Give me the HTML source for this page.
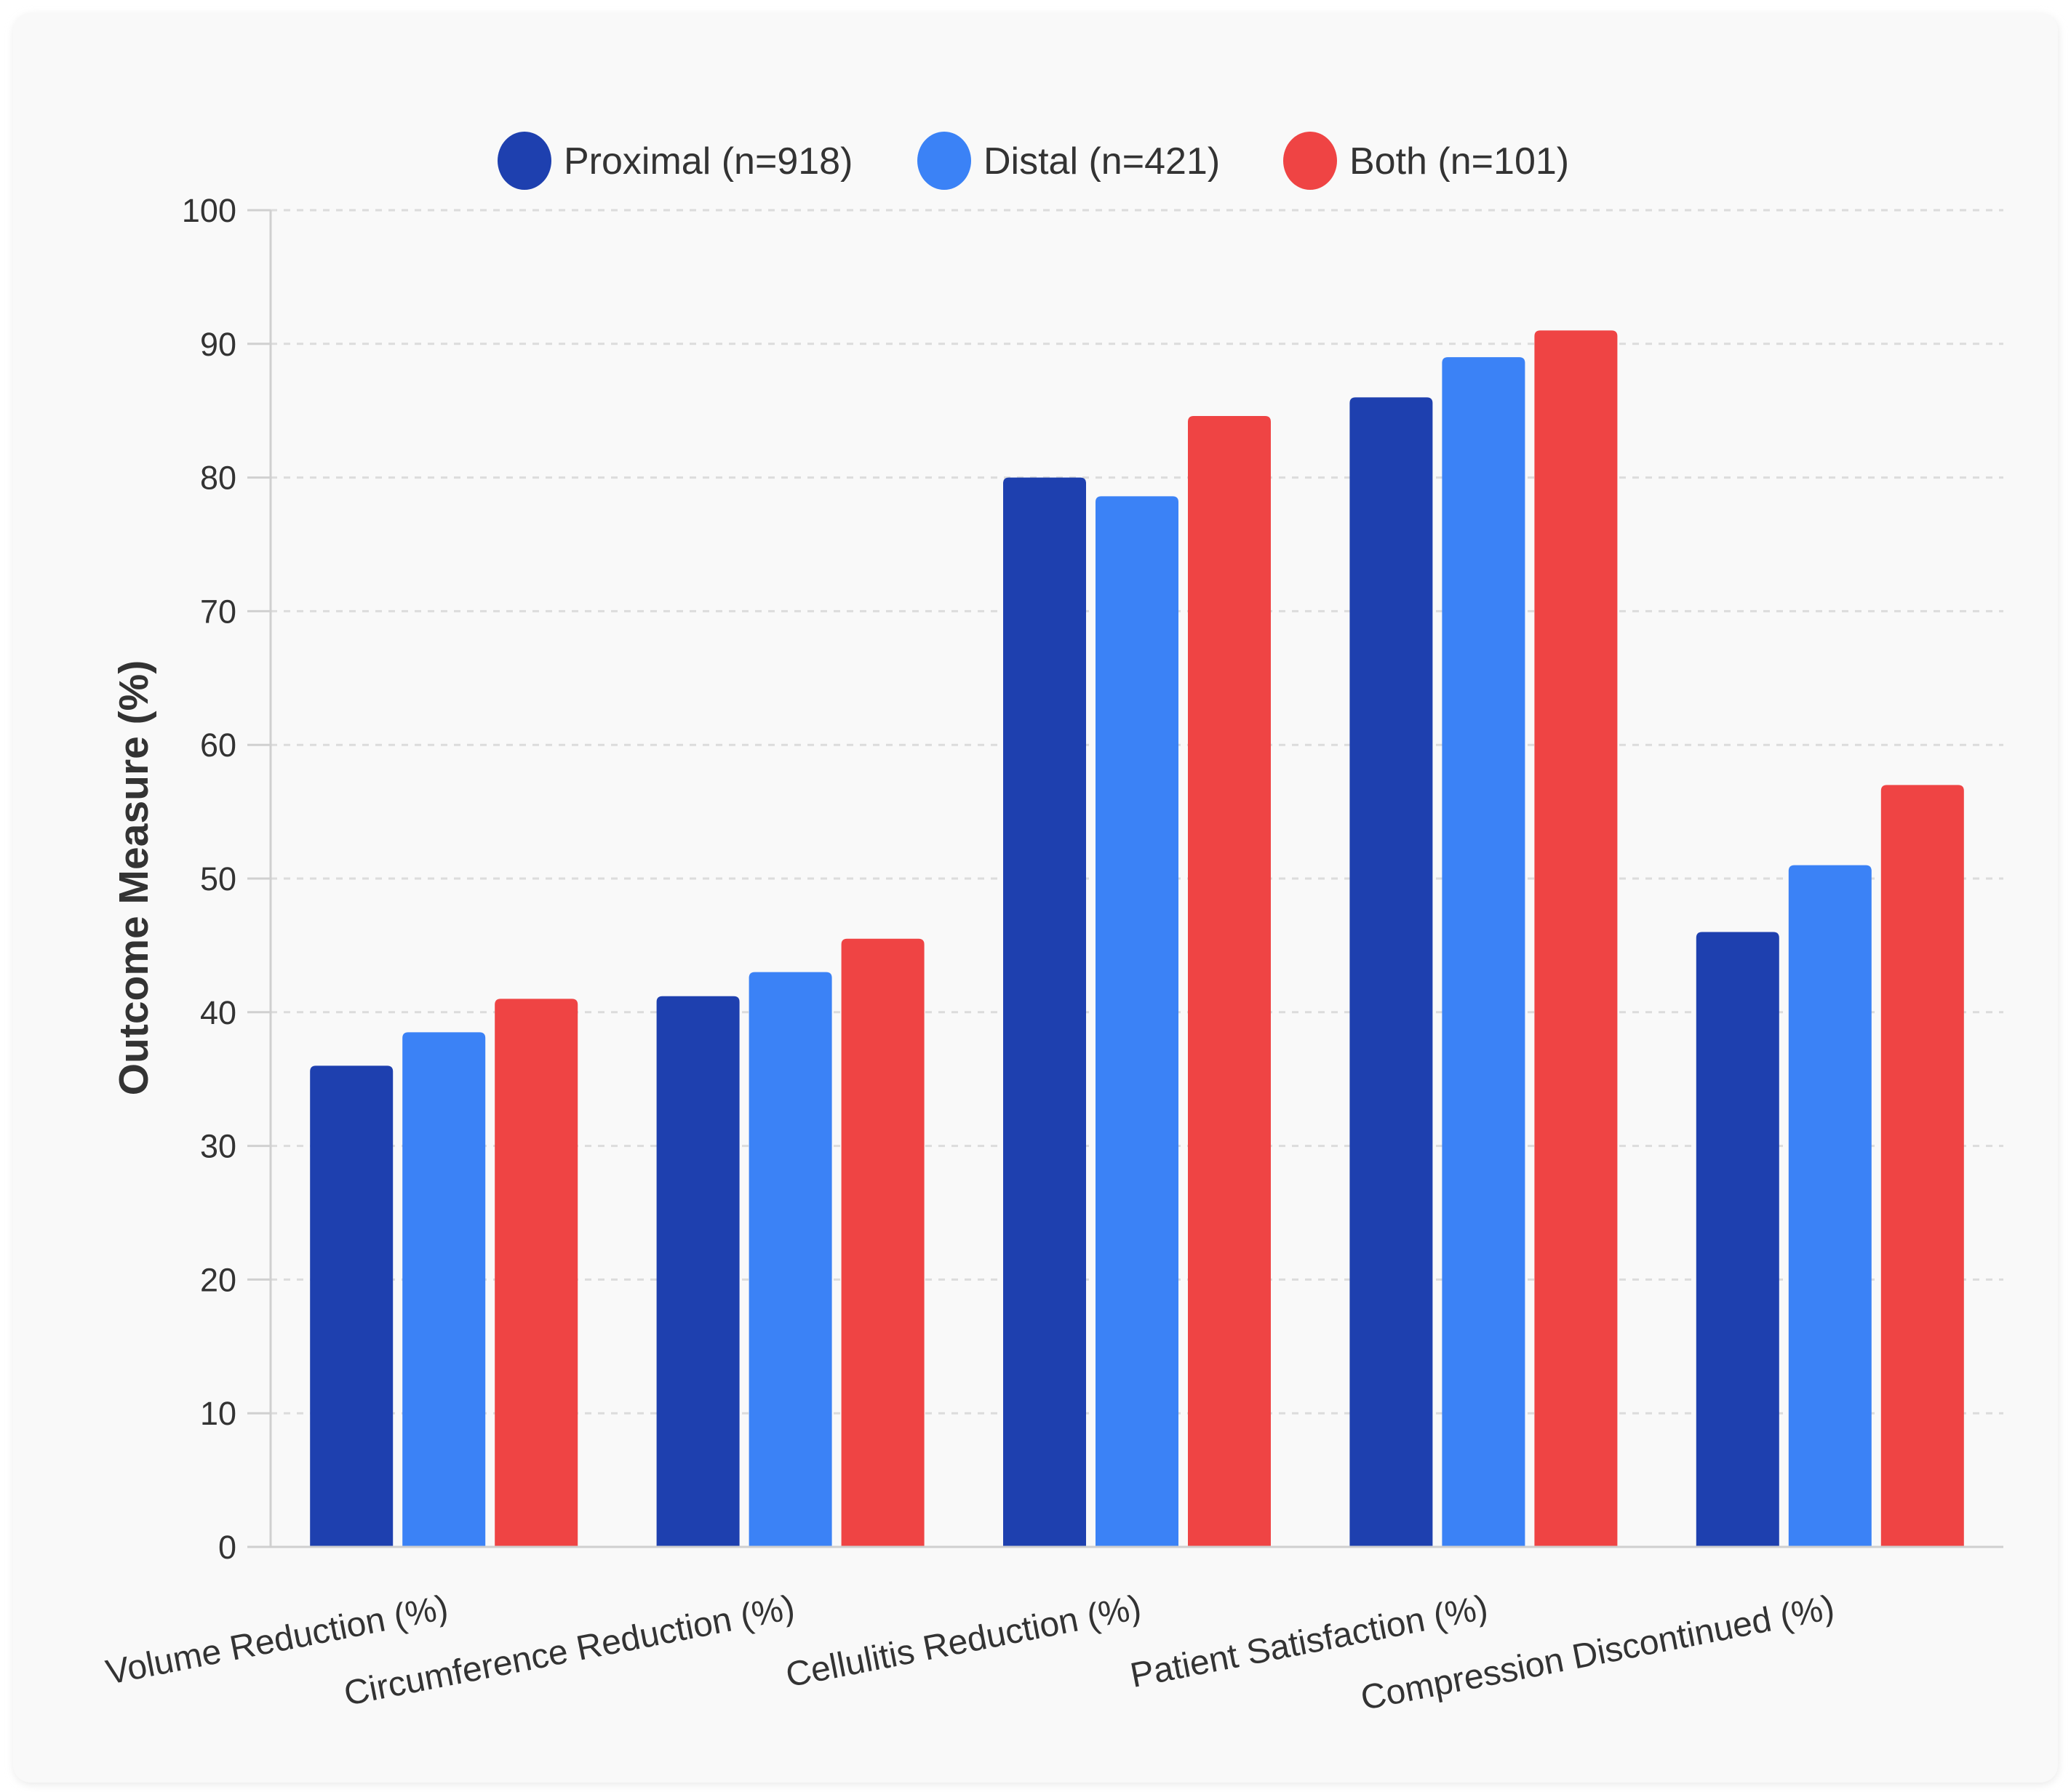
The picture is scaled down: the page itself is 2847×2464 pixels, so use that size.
<!DOCTYPE html>
<html><head><meta charset="utf-8"><style>
html,body{margin:0;padding:0;background:#fff;}
svg{display:block;font-family:"Liberation Sans",Arial,sans-serif;}
</style></head><body>
<svg id="chart" width="2847" height="2464" viewBox="0 0 2847 2464">
<defs><filter id="sh" x="-5%" y="-5%" width="110%" height="110%"><feGaussianBlur stdDeviation="6"/></filter></defs>
<rect x="20" y="22" width="2809" height="2431" rx="24" fill="#e6e6e6" filter="url(#sh)"/>
<rect x="18" y="18" width="2811" height="2433" rx="24" fill="#f9f9f9"/>
<g id="grid"></g>
<g id="bars"></g>
<g id="axes"></g>
<g id="legend"></g>
<text x="0" y="0" transform="translate(203,1207) rotate(-90)" text-anchor="middle" font-size="57" font-weight="bold" fill="#333">Outcome Measure (%)</text>
</svg>
<script>
const categories = ["Volume Reduction (%)","Circumference Reduction (%)","Cellulitis Reduction (%)","Patient Satisfaction (%)","Compression Discontinued (%)"];
const proximal = [36, 41.2, 80, 86, 46];
const distal = [38.5, 43, 78.6, 89, 51];
const both = [41, 45.5, 84.6, 91, 57];
const seriesNames = ["Proximal (n=918)","Distal (n=421)","Both (n=101)"];
const yTicks = [0,10,20,30,40,50,60,70,80,90,100];

const NS="http://www.w3.org/2000/svg";
const L=372,R=2754,T=289,B=2127,YMAX=100;
const colors=["#1e40af","#3b82f6","#ef4444"];
const series=[proximal,distal,both];
function y(v){return B-(v/YMAX)*(B-T);}
const band=(R-L)/categories.length;
function bandX(i){return L+i*band;}
function mk(tag,attrs,parent){const e=document.createElementNS(NS,tag);for(const k in attrs)e.setAttribute(k,attrs[k]);parent.appendChild(e);return e;}
const grid=document.getElementById('grid'),bars=document.getElementById('bars'),axes=document.getElementById('axes'),legend=document.getElementById('legend');

yTicks.forEach(t=>{
  const g=mk('line',{x1:L,x2:R,y1:y(t),y2:y(t),stroke:'#dcdcdc','stroke-width':3,'stroke-dasharray':'9 9'},grid);
  
  
  const tk=mk('line',{x1:L-32,x2:L,y1:y(t),y2:y(t),stroke:'#d0d0d0','stroke-width':3},axes);
  
  
  const lb=mk('text',{x:325,y:y(t)+16,'text-anchor':'end','font-size':45,fill:'#333'},axes);
  lb.textContent=t;
  
  
});
const ya=mk('line',{x1:L,x2:L,y1:T,y2:B,stroke:'#d0d0d0','stroke-width':3},axes);


const xa=mk('line',{x1:L-32,x2:R,y1:B,y2:B,stroke:'#cfcfcf','stroke-width':3},axes);



const bw=114,gap=13;
const groupW=3*bw+2*gap;
categories.forEach((c,i)=>{
  const x0=bandX(i)+(band-groupW)/2;
  series.forEach((s,j)=>{
    const top=y(s[i]);const x=x0+j*(bw+gap);const r=8;
    const p=mk('path',{d:`M${x},${B} V${top+r} Q${x},${top} ${x+r},${top} H${x+bw-r} Q${x+bw},${top} ${x+bw},${top+r} V${B} Z`,fill:colors[j]},bars);
    
    
  });
  const cx=bandX(i)+band/2+8;
  const t=mk('text',{x:0,y:0,transform:`translate(${cx},2225) rotate(-11)`,'text-anchor':'end','font-size':48,fill:'#333'},axes);
  t.textContent=c;
  
  
});

const lx=[721,1298,1801];
seriesNames.forEach((n,j)=>{
  const c=mk('ellipse',{cx:lx[j],cy:221,rx:37,ry:40,fill:colors[j]},legend);
  
  
  const t=mk('text',{x:lx[j]+54,y:239,'font-size':52,fill:'#333'},legend);
  t.textContent=n;
  
  
});
</script>
</body></html>
